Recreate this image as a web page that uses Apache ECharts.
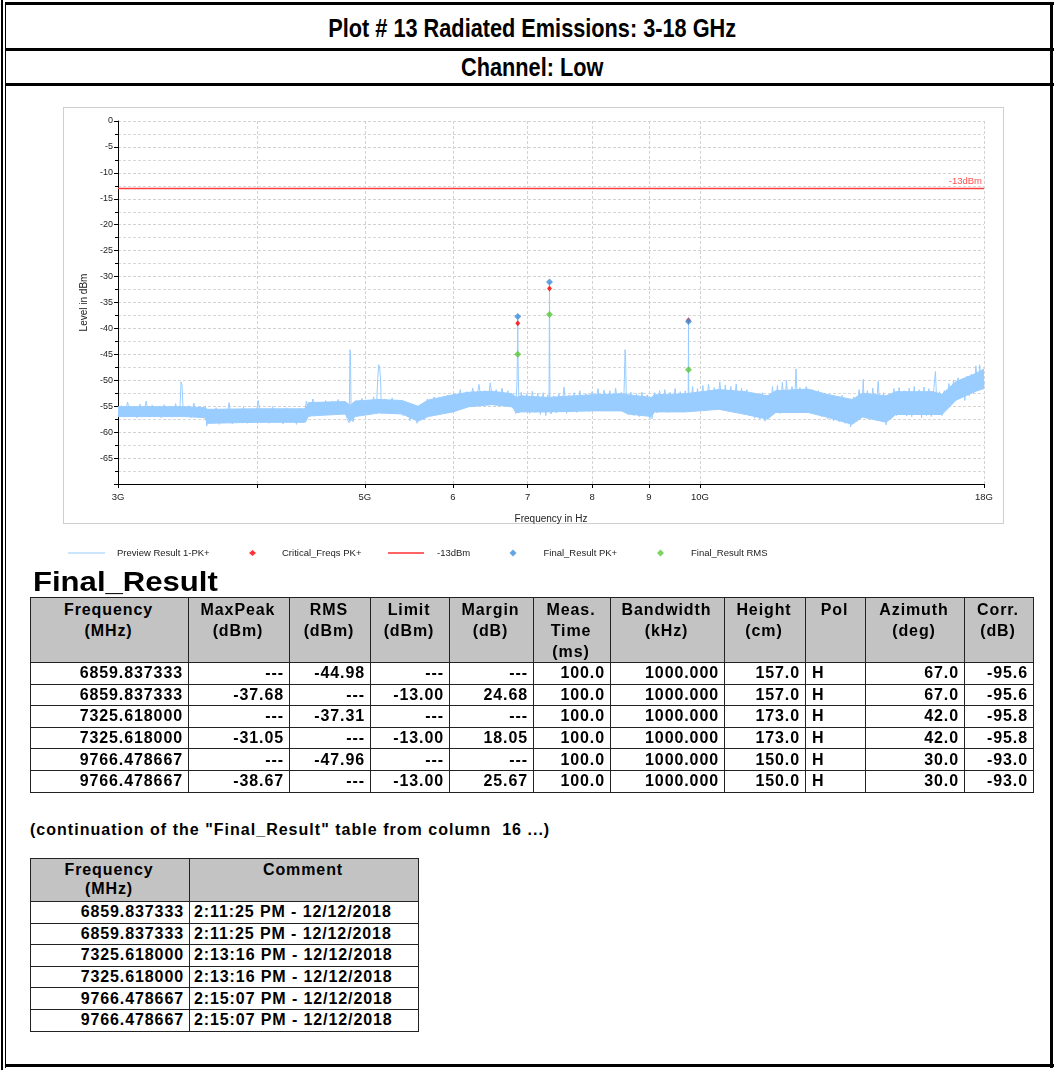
<!DOCTYPE html>
<html>
<head>
<meta charset="utf-8">
<script src="https://cdn.jsdelivr.net/npm/echarts@6/dist/echarts.min.js"></script>
<style>
  html, body { margin:0; padding:0; background:#fff; }
  body { width:1056px; height:1070px; position:relative; overflow:hidden; font-family:"Liberation Sans", Arial, sans-serif; color:#000; }
  .ln { position:absolute; background:#000; }
  .title { position:absolute; left:10px; width:1044px; text-align:center; font-weight:bold; font-size:26px; }
  .title span { display:inline-block; transform:scaleX(0.835); transform-origin:center; }
  #box { position:absolute; left:63px; top:107px; width:939px; height:415px; border:1px solid #cfcfcf; }
  #chart { position:absolute; left:0; top:0; width:1056px; height:570px; }
  #frTitle { position:absolute; left:33px; top:566px; font-weight:bold; font-size:28px; line-height:32px; transform:scaleX(1.11); transform-origin:left; }
  table { position:absolute; border-collapse:collapse; table-layout:fixed; font-weight:bold; font-size:16px; letter-spacing:0.9px; }
  td, th { border:1px solid #222; padding:0 5px 0 3px; white-space:nowrap; overflow:hidden; }
  th { background:#c3c3c3; vertical-align:top; text-align:center; font-weight:bold; line-height:21px; padding-top:1px; }
  td { text-align:right; height:20.6px; line-height:20px; }
  td.l { text-align:left; padding-left:6px; }
  #cont { position:absolute; left:30px; top:821px; font-weight:bold; font-size:16px; letter-spacing:1.02px; }
</style>
</head>
<body>
<!-- frame -->
<div class="ln" style="left:1px;top:0;width:2px;height:1070px;"></div>
<div class="ln" style="left:5px;top:2px;width:1px;height:1066px;"></div>
<div class="ln" style="left:5px;top:2px;width:1049px;height:3px;"></div>
<div class="ln" style="left:5px;top:48px;width:1049px;height:3px;"></div>
<div class="ln" style="left:5px;top:83px;width:1049px;height:3px;"></div>
<div class="ln" style="left:1050px;top:2px;width:3px;height:1066px;"></div>
<div class="ln" style="left:5px;top:1064px;width:1049px;height:3px;"></div>

<div class="title" style="top:9px;line-height:38px;"><span>Plot # 13 Radiated Emissions: 3-18 GHz</span></div>
<div class="title" style="top:51px;line-height:32px;"><span>Channel: Low</span></div>

<div id="box"></div>
<div id="chart"></div>

<div id="frTitle">Final_Result</div>
<table id="t1" style="left:30px;top:597px;"></table>
<div id="cont">(continuation of the "Final_Result" table from column&nbsp; 16 ...)</div>
<table id="t2" style="left:30px;top:858px;"></table>

<script>
// ---------- data ----------
const xTickGHz   = [3, 4, 5, 6, 7, 8, 9, 10, 18];
const xTickLabel = ['3G', '', '5G', '6', '7', '8', '9', '10G', '18G'];

// Preview Result 1-PK+ trace (frequency in GHz, level in dBm)
const traceGHz = [
  3.00,3.02,3.04,3.06,3.08,3.10,3.12,3.14,3.16,3.18,3.20,3.22,3.24,3.26,3.28,3.30,3.32,3.34,3.36,3.38,3.40,
  3.41,3.418,3.425,3.432,
  3.45,3.47,3.49,3.51,3.53,3.55,3.58,3.595,
  3.605,3.625,3.65,3.675,3.70,3.725,3.75,3.775,3.80,3.83,3.86,3.89,3.92,3.95,3.98,4.01,4.04,4.07,4.10,4.13,4.16,4.19,4.22,4.25,4.28,4.31,4.34,4.37,4.40,
  4.43,4.46,4.49,4.52,4.55,4.58,4.61,4.64,4.67,4.70,4.73,4.76,4.79,4.82,
  4.84,4.848,4.853,4.86,
  4.88,4.91,4.94,4.97,5.00,5.03,5.06,5.09,5.12,
  5.135,5.145,5.155,5.165,5.175,
  5.21,5.25,5.29,5.33,5.37,5.41,5.45,5.49,5.53,5.57,5.61,5.65,5.69,5.73,5.77,5.81,5.85,5.89,5.93,5.97,
  6.01,6.05,6.09,6.13,6.17,6.21,6.25,6.29,6.33,6.37,6.41,6.45,6.48,6.52,6.56,6.60,6.64,6.68,6.72,6.76,6.80,6.83,
  6.850,6.855,6.860,6.865,6.870,6.880,
  6.91,6.95,6.99,7.03,7.07,7.11,7.15,7.19,7.23,7.27,7.30,
  7.318,7.3256,7.333,
  7.35,7.39,7.43,7.47,7.51,7.55,7.59,7.63,7.67,7.71,7.75,7.80,7.85,7.90,7.95,8.00,8.05,8.10,8.15,8.20,8.25,8.30,8.35,8.40,8.45,8.50,8.54,
  8.555,8.565,8.575,8.585,
  8.62,8.67,8.72,8.77,8.82,8.87,8.92,8.97,9.02,9.06,9.10,9.15,9.20,9.25,9.30,9.35,9.40,9.45,9.50,9.55,9.60,9.65,9.70,9.75,
  9.760,9.7665,9.772,
  9.80,9.85,9.90,9.95,10.00,10.06,10.12,10.18,10.24,10.30,10.36,10.42,10.48,10.54,10.60,10.66,10.72,10.78,10.84,10.90,10.96,11.02,11.08,11.14,11.20,11.26,11.32,11.38,11.44,11.50,11.56,11.62,11.68,11.74,11.80,11.86,11.92,11.96,12.02,12.10,12.16,
  12.20,12.24,12.30,12.38,12.46,12.54,12.62,12.70,12.78,12.86,12.94,13.02,13.10,13.18,13.26,13.34,13.42,13.50,13.58,13.66,13.74,13.82,13.90,13.98,14.02,14.06,14.14,14.22,14.30,14.38,14.46,14.54,14.62,14.70,14.78,14.86,14.94,15.02,15.10,15.18,15.26,15.34,15.42,15.50,15.58,15.66,15.74,15.82,15.90,15.98,16.06,16.14,16.22,16.28,16.34,16.42,16.50,16.58,16.66,16.74,16.82,16.90,16.98,17.06,17.14,17.22,17.30,17.38,17.46,17.54,17.62,17.70,17.78,17.84,17.90,17.96,18.00
];
const traceDbm = [
  -56.8,-54.9,-57.1,-54.2,-57.0,-55.0,-57.2,-54.6,-56.9,-54.0,-57.1,-54.8,-57.0,-55.1,-57.2,-54.7,-56.9,-55.0,-57.1,-54.5,-56.8,
  -55.5,-50.3,-51.0,-55.2,
  -57.0,-54.9,-57.2,-54.4,-57.0,-55.1,-57.3,-55.0,
  -58.8,-55.8,-58.3,-55.3,-58.5,-55.6,-58.1,-54.3,-58.4,-55.7,-58.0,-55.2,-58.3,-55.8,-58.0,-53.9,-58.2,-55.6,-58.3,-55.1,-58.0,-55.7,-58.4,-55.3,-58.1,-55.8,-58.5,-55.4,-58.2,
  -54.0,-57.0,-53.6,-56.8,-54.2,-56.5,-53.9,-56.7,-54.0,-56.3,-53.7,-56.6,-54.2,-57.5,
  -58.2,-44.1,-44.8,-56.8,
  -58.0,-54.1,-56.5,-53.5,-56.2,-53.8,-56.4,-53.2,-55.8,
  -49.5,-47.0,-47.5,-50.0,-56.4,
  -53.6,-56.2,-53.4,-56.5,-53.8,-56.8,-54.3,-57.8,-54.8,-58.3,-54.6,-57.6,-53.6,-56.8,-53.2,-56.5,-53.4,-56.2,-52.9,-56.0,
  -52.5,-55.4,-51.8,-55.0,-52.2,-54.6,-51.5,-54.8,-50.8,-54.5,-52.0,-54.3,-50.5,-54.6,-51.8,-54.4,-51.5,-54.9,-52.0,-55.2,-52.8,-56.4,
  -50.0,-44.8,-37.68,-46.5,-50.5,-56.2,
  -52.3,-56.0,-52.6,-56.4,-52.1,-56.2,-52.5,-56.6,-52.4,-56.8,-52.8,
  -55.5,-31.05,-55.8,
  -56.5,-53.0,-56.3,-52.6,-56.0,-51.3,-56.4,-52.8,-55.7,-52.4,-56.2,-52.0,-55.8,-52.6,-56.0,-52.2,-55.5,-51.6,-55.8,-51.9,-55.4,-52.0,-55.9,-51.5,-55.6,-52.3,-55.3,
  -49.0,-44.1,-45.5,-52.0,
  -56.6,-52.3,-56.8,-52.6,-57.0,-52.3,-56.8,-52.8,-57.2,-57.4,-52.4,-56.3,-52.0,-56.0,-51.8,-56.2,-52.3,-55.8,-51.6,-56.0,-52.2,-55.7,-52.0,-55.0,
  -54.5,-38.67,-52.0,
  -55.5,-51.2,-55.8,-51.6,-55.4,-51.0,-55.9,-50.8,-55.2,-51.4,-55.6,-50.3,-55.3,-50.9,-56.0,-51.2,-55.4,-50.7,-56.2,-51.5,-56.6,-51.8,-56.8,-52.5,-57.3,-52.7,-57.5,-52.4,-57.9,-53.0,-56.8,-51.2,-56.2,-51.0,-56.4,-50.4,-55.8,-50.0,-55.9,-51.2,-55.0,
  -47.8,-55.5,-51.4,-55.9,-51.2,-56.1,-51.8,-56.3,-52.0,-57.0,-52.6,-57.4,-52.8,-57.8,-53.2,-58.0,-52.9,-58.3,-53.6,-59.0,-53.2,-57.6,-51.8,-57.0,-49.8,-56.6,-52.0,-57.2,-51.5,-57.6,-50.2,-57.8,-52.4,-58.6,-52.8,-57.4,-51.6,-56.8,-51.4,-56.5,-52.0,-56.9,-51.5,-57.0,-51.2,-56.6,-51.8,-57.2,-51.3,-56.8,-51.6,-57.0,-52.0,-48.3,-56.6,-52.2,-56.8,-52.0,-55.0,-50.6,-54.0,-50.0,-53.8,-49.5,-53.4,-50.0,-53.9,-49.2,-53.0,-48.8,-52.5,-47.2,-52.0,-47.0,-51.5,-48.0,-51.0
];

// dense core of the noise band (lower / upper envelope, dBm)
const bandGHz = [3.00,3.40,3.44,3.59,3.61,4.00,4.42,4.45,4.80,4.85,4.90,5.15,5.40,5.58,5.70,6.00,6.20,6.50,6.78,6.84,6.90,7.30,8.00,8.50,8.62,9.05,9.10,9.70,10.4,11.0,11.5,11.7,12.5,13.0,13.7,14.0,14.7,15.0,16.2,16.5,17.0,17.7,18.0];
const bandLo  = [-57.0,-57.0,-57.0,-57.2,-58.3,-58.1,-58.1,-56.9,-56.5,-57.9,-57.0,-56.3,-56.5,-57.9,-57.0,-56.1,-55.1,-54.7,-55.1,-56.3,-56.1,-56.1,-55.9,-55.9,-56.5,-57.0,-56.1,-56.1,-55.6,-56.6,-57.5,-56.2,-56.2,-57.1,-58.5,-57.1,-58.1,-56.6,-56.6,-56.6,-53.8,-52.1,-51.6];
const bandHi  = [-55.1,-55.1,-55.1,-55.3,-55.6,-55.5,-55.5,-54.3,-54.1,-54.8,-54.0,-53.7,-53.9,-55.0,-53.8,-52.8,-52.3,-52.1,-52.6,-53.3,-53.0,-53.3,-52.8,-52.6,-52.8,-53.3,-52.8,-52.6,-51.8,-52.2,-53.0,-52.0,-51.7,-52.7,-53.7,-52.5,-53.0,-52.2,-52.2,-52.7,-50.2,-48.7,-47.8];

// markers
const markerMHz = [6859.837333, 7325.618000, 9766.478667];
const critPk    = [-39.0, -32.3, -38.4];
const finalPk   = [-37.68, -31.05, -38.67];
const finalRms  = [-44.98, -37.31, -47.96];
const limitDbm  = -13;

// Final_Result table
const tblFreq   = ['6859.837333','6859.837333','7325.618000','7325.618000','9766.478667','9766.478667'];
const tblMaxPk  = ['---','-37.68','---','-31.05','---','-38.67'];
const tblRms    = ['-44.98','---','-37.31','---','-47.96','---'];
const tblLimit  = ['---','-13.00','---','-13.00','---','-13.00'];
const tblMargin = ['---','24.68','---','18.05','---','25.67'];
const tblTime   = ['100.0','100.0','100.0','100.0','100.0','100.0'];
const tblBw     = ['1000.000','1000.000','1000.000','1000.000','1000.000','1000.000'];
const tblHeight = ['157.0','157.0','173.0','173.0','150.0','150.0'];
const tblPol    = ['H','H','H','H','H','H'];
const tblAz     = ['67.0','67.0','42.0','42.0','30.0','30.0'];
const tblCorr   = ['-95.6','-95.6','-95.8','-95.8','-93.0','-93.0'];
const tblComment= ['2:11:25 PM - 12/12/2018','2:11:25 PM - 12/12/2018','2:13:16 PM - 12/12/2018','2:13:16 PM - 12/12/2018','2:15:07 PM - 12/12/2018','2:15:07 PM - 12/12/2018'];
const t1Heads = ['Frequency<br>(MHz)','MaxPeak<br>(dBm)','RMS<br>(dBm)','Limit<br>(dBm)','Margin<br>(dB)','Meas.<br>Time<br>(ms)','Bandwidth<br>(kHz)','Height<br>(cm)','Pol','Azimuth<br>(deg)','Corr.<br>(dB)'];
const t2Heads = ['Frequency<br>(MHz)','Comment'];

// ---------- tables ----------
(function(){
  const w1 = [158,101,81,79,84,77,114,81,60,99,69];
  const cols1 = [tblFreq,tblMaxPk,tblRms,tblLimit,tblMargin,tblTime,tblBw,tblHeight,tblPol,tblAz,tblCorr];
  let h = '<colgroup>' + w1.map(w=>'<col style="width:'+w+'px">').join('') + '</colgroup>';
  h += '<tr style="height:65px">' + t1Heads.map(t=>'<th>'+t+'</th>').join('') + '</tr>';
  for (let r=0;r<tblFreq.length;r++){
    h += '<tr>' + cols1.map((c,i)=>'<td'+(i===8?' class="l"':'')+'>'+c[r]+'</td>').join('') + '</tr>';
  }
  const t1 = document.getElementById('t1');
  t1.style.width = w1.reduce((a,b)=>a+b,0)+'px';
  t1.innerHTML = h;

  const w2 = [159,229];
  let g = '<colgroup>' + w2.map(w=>'<col style="width:'+w+'px">').join('') + '</colgroup>';
  g += '<tr style="height:43px">' + t2Heads.map(t=>'<th style="line-height:19px">'+t+'</th>').join('') + '</tr>';
  for (let r=0;r<tblFreq.length;r++){
    g += '<tr><td>'+tblFreq[r]+'</td><td class="l" style="padding-left:4px">'+tblComment[r]+'</td></tr>';
  }
  const t2 = document.getElementById('t2');
  t2.style.width = w2.reduce((a,b)=>a+b,0)+'px';
  t2.innerHTML = g;
})();

// ---------- chart ----------
const lg = v => Math.log10(v);
const FONT = '"Liberation Sans", Arial, sans-serif';
const TRACE = '#99ccff';
const xTicks = xTickGHz.map(lg);

const chart = echarts.init(document.getElementById('chart'), null, {renderer:'canvas'});
const legendText = pad => ({fontFamily:FONT, fontSize:9.5, color:'#222', padding:[0,0,0,pad]});
const legendBase = {orient:'horizontal', top:543, selectedMode:false};

chart.setOption({
  animation:false,
  backgroundColor:'transparent',
  textStyle:{fontFamily:FONT},
  grid:{left:118, right:72, top:121, bottom:86, containLabel:false},
  legend:[
    Object.assign({}, legendBase, {data:[{name:'Preview Result 1-PK+', icon:'rect', itemStyle:{color:TRACE}}], left:63, itemWidth:37, itemHeight:1, textStyle:legendText(7)}),
    Object.assign({}, legendBase, {data:['Critical_Freqs PK+'], left:244, itemWidth:7, itemHeight:6, textStyle:legendText(21)}),
    Object.assign({}, legendBase, {data:[{name:'-13dBm', icon:'rect', itemStyle:{color:'#ff3030'}}], left:383, itemWidth:36, itemHeight:1.5, textStyle:legendText(8)}),
    Object.assign({}, legendBase, {data:['Final_Result PK+'], left:504.5, itemWidth:7, itemHeight:7, textStyle:legendText(22)}),
    Object.assign({}, legendBase, {data:['Final_Result RMS'], left:652, itemWidth:7, itemHeight:7, textStyle:legendText(22)})
  ],
  xAxis:{
    type:'value', min:lg(3), max:lg(18),
    name:'Frequency in Hz', nameLocation:'middle', nameGap:30,
    nameTextStyle:{fontFamily:FONT, fontSize:10, color:'#222'},
    axisLine:{onZero:false, lineStyle:{color:'#000', width:1}},
    axisTick:{show:true, customValues:xTicks, length:4, lineStyle:{color:'#000'}},
    axisLabel:{customValues:xTicks, margin:8, fontFamily:FONT, fontSize:9.5, color:'#222',
      formatter:function(v){ let best=0; xTicks.forEach((t,i)=>{ if(Math.abs(t-v)<Math.abs(xTicks[best]-v)) best=i; }); return xTickLabel[best]; }},
    splitLine:{show:true, lineStyle:{color:'#d2d2d2', type:[3,2], width:1}}
  },
  yAxis:{
    type:'value', min:-70, max:0, interval:5,
    name:'Level in dBm', nameLocation:'middle', nameGap:23, nameRotate:90,
    nameTextStyle:{fontFamily:FONT, fontSize:10, color:'#222'},
    axisLine:{show:true, onZero:false, lineStyle:{color:'#000', width:1}},
    axisTick:{show:true, length:4, lineStyle:{color:'#000'}},
    minorTick:{show:true, splitNumber:2, length:3, lineStyle:{color:'#000'}},
    axisLabel:{margin:5, fontFamily:FONT, fontSize:9, color:'#222', showMinLabel:false},
    splitLine:{show:true, lineStyle:{color:'#d2d2d2', type:[3,2], width:1}},
    minorSplitLine:{show:true, lineStyle:{color:'#d8d8d8', type:[3,2], width:1}}
  },
  series:[
    { name:'noiseBand', type:'custom', silent:true, clip:true, z:2,
      data:[[lg(bandGHz[0]), bandLo[0]]],
      renderItem:function(params, api){
        const pts = [];
        for (let i=0;i<bandGHz.length;i++) pts.push(api.coord([lg(bandGHz[i]), bandHi[i]]));
        for (let i=bandGHz.length-1;i>=0;i--) pts.push(api.coord([lg(bandGHz[i]), bandLo[i]]));
        return {type:'polygon', shape:{points:pts}, style:{fill:TRACE, stroke:TRACE, lineWidth:1}};
      } },
    { name:'Preview Result 1-PK+', type:'line', symbol:'none', silent:true,
      data:traceGHz.map((f,i)=>[lg(f), traceDbm[i]]),
      lineStyle:{color:TRACE, width:1}, itemStyle:{color:TRACE}, z:3 },
    { name:'Critical_Freqs PK+', type:'scatter', symbol:'diamond', symbolSize:[5,6],
      data:markerMHz.map((f,i)=>[lg(f/1000), critPk[i]]), itemStyle:{color:'#ff0000'}, z:4 },
    { name:'-13dBm', type:'line', symbol:'none', silent:true,
      data:[[lg(3), limitDbm],[lg(18), limitDbm]], lineStyle:{color:'#ff4040', width:1.5}, itemStyle:{color:'#ff4040'}, z:4,
      markLine:{silent:true, symbol:'none', data:[{yAxis:limitDbm}], lineStyle:{color:'rgba(0,0,0,0)', width:0},
        label:{show:true, position:'insideEndTop', distance:2, formatter:'-13dBm', color:'#ff5050', fontFamily:FONT, fontSize:9.5}} },
    { name:'Final_Result PK+', type:'scatter', symbol:'diamond', symbolSize:7,
      data:markerMHz.map((f,i)=>[lg(f/1000), finalPk[i]]), itemStyle:{color:'#3d8fd9'}, z:5 },
    { name:'Final_Result RMS', type:'scatter', symbol:'diamond', symbolSize:7,
      data:markerMHz.map((f,i)=>[lg(f/1000), finalRms[i]]), itemStyle:{color:'#5cc83a'}, z:5 }
  ]
});
</script>
</body>
</html>
